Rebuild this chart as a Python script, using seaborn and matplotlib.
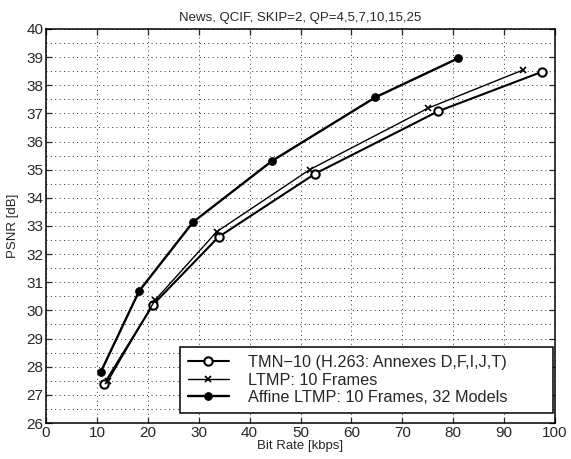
import numpy as np
import pandas as pd
import seaborn as sns
import matplotlib
matplotlib.use("Agg")
import matplotlib.pyplot as plt
from matplotlib.ticker import MultipleLocator

# rate-distortion points
tmn_rate = [11.4, 21.0, 33.9, 52.9, 77.1, 97.5]
tmn_psnr = [27.38, 30.20, 32.61, 34.86, 37.08, 38.48]
ltmp_rate = [12.2, 21.4, 33.5, 51.8, 75.0, 93.7]
ltmp_psnr = [27.50, 30.36, 32.79, 35.00, 37.18, 38.54]
aff_rate = [10.8, 18.3, 28.9, 44.4, 64.7, 81.0]
aff_psnr = [27.83, 30.69, 33.14, 35.31, 37.57, 38.96]

labels = ["TMN\u221210 (H.263: Annexes D,F,I,J,T)",
          "LTMP: 10 Frames",
          "Affine LTMP: 10 Frames, 32 Models"]

sns.set_style("ticks")
plt.rcParams["font.family"] = ["Liberation Sans", "DejaVu Sans"]

fig = plt.figure(figsize=(5.71, 4.59), dpi=100)
ax = fig.add_axes([0.0806, 0.0784, 0.8914, 0.8586])

sns.lineplot(x=tmn_rate, y=tmn_psnr, ax=ax, color="black", lw=1.5,
             marker="o", markersize=6, markerfacecolor="white",
             markeredgecolor="black", markeredgewidth=1.5, label=labels[0])
sns.lineplot(x=ltmp_rate, y=ltmp_psnr, ax=ax, color="black", lw=1.0,
             marker="x", markersize=5, markeredgecolor="black",
             markeredgewidth=1.2, label=labels[1])
sns.lineplot(x=aff_rate, y=aff_psnr, ax=ax, color="black", lw=1.7,
             marker="o", markersize=5.5, markerfacecolor="black",
             markeredgecolor="black", label=labels[2])

ax.set_xlim(0, 100)
ax.set_ylim(26, 40)
ax.xaxis.set_major_locator(MultipleLocator(10))
ax.yaxis.set_major_locator(MultipleLocator(1))
ax.yaxis.set_minor_locator(MultipleLocator(0.5))
grid_kw = dict(color="#333333", lw=0.7, dashes=(1, 3.5))
ax.grid(True, which="major", axis="x", **grid_kw)
ax.grid(True, which="both", axis="y", **grid_kw)
ax.tick_params(which="major", direction="in", top=True, right=True,
               length=4, width=0.9, labelsize=11, pad=2)
ax.tick_params(which="minor", length=0)
for s in ax.spines.values():
    s.set_color("black")
    s.set_linewidth(1.1)

ax.set_xlabel("Bit Rate [kbps]", fontsize=9.5, labelpad=0)
ax.set_ylabel("PSNR [dB]", fontsize=9.5, labelpad=5)
ax.set_title("News, QCIF, SKIP=2, QP=4,5,7,10,15,25", fontsize=9.5, pad=6)

# wide legend box, content left-aligned like the original
leg = ax.legend(loc="lower left", mode="expand", fontsize=11.7, frameon=True,
                fancybox=False, edgecolor="black", framealpha=1,
                handlelength=2.5, handletextpad=1.2, borderaxespad=0,
                labelspacing=0.15, borderpad=0.5,
                bbox_to_anchor=(0.263, 0.025, 0.733, 0.17))
leg.get_frame().set_linewidth(1.1)

fig.savefig("out.png", dpi=100)
